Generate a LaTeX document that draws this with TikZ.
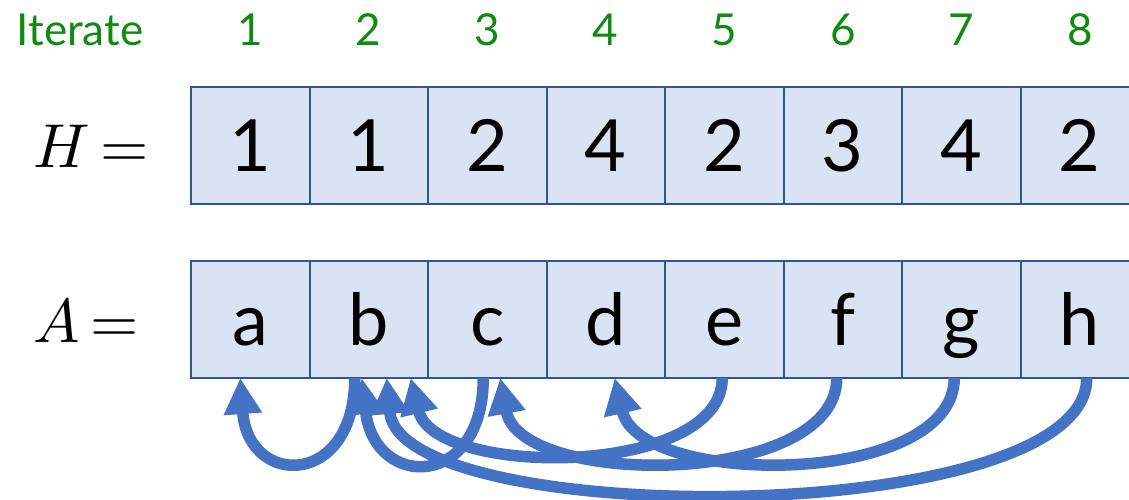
\documentclass[tikz,border=0pt]{standalone}
\usepackage{fontspec}
\usepackage{unicode-math}
\setmainfont{Lato}
\setmathfont{Latin Modern Math}
\usetikzlibrary{arrows.meta,positioning}

\definecolor{cellfill}{HTML}{DAE3F3}
\definecolor{cellline}{HTML}{2F5597}
\definecolor{linkblue}{HTML}{4472C4}
\definecolor{itergreen}{HTML}{118A11}

\begin{document}
\begin{tikzpicture}[x=0.5pt, y=-0.5pt,
	cell/.style={draw=cellline, line width=1pt, fill=cellfill, outer sep=0pt, inner sep=0pt, minimum width=59.25pt, minimum height=58.5pt, text height=26pt, text depth=0pt, font=\fontsize{36}{40}\selectfont},
	iter/.style={text=itergreen, anchor=base, inner sep=0pt, font=\fontsize{22}{26}\selectfont},
	rowname/.style={font=\fontsize{31}{37}\selectfont},
	link/.style={draw=linkblue, line width=5.75pt, -{Triangle[length=18pt, width=18pt]}}]
	\useasboundingbox (0,0) rectangle (1129,499);
	% the two arrays
	\node[cell] (H1) at (250.25,145.5) {1};
	\node[cell, right=0pt of H1] (H2) {1};
	\node[cell, right=0pt of H2] (H3) {2};
	\node[cell, right=0pt of H3] (H4) {4};
	\node[cell, right=0pt of H4] (H5) {2};
	\node[cell, right=0pt of H5] (H6) {3};
	\node[cell, right=0pt of H6] (H7) {4};
	\node[cell, right=0pt of H7] (H8) {2};
	\node[cell] (A1) at (250.25,319.5) {a};
	\node[cell, right=0pt of A1] (A2) {b};
	\node[cell, right=0pt of A2] (A3) {c};
	\node[cell, right=0pt of A3] (A4) {d};
	\node[cell, right=0pt of A4] (A5) {e};
	\node[cell, right=0pt of A5] (A6) {f};
	\node[cell, right=0pt of A6] (A7) {g};
	\node[cell, right=0pt of A7] (A8) {h};
	\node[rowname] (Hname) at (91,146) {$H\,{=}$};
	\node[rowname] (Aname) at (86,320) {$A\,{=}$};
	% iteration numbers
	\node[iter] (itlabel) at (80,45) {Iterate};
	\node[iter] (n1) at (H1.center |- itlabel.base) {1};
	\node[iter] (n2) at (H2.center |- itlabel.base) {2};
	\node[iter] (n3) at (H3.center |- itlabel.base) {3};
	\node[iter] (n4) at (H4.center |- itlabel.base) {4};
	\node[iter] (n5) at (H5.center |- itlabel.base) {5};
	\node[iter] (n6) at (H6.center |- itlabel.base) {6};
	\node[iter] (n7) at (H7.center |- itlabel.base) {7};
	\node[iter] (n8) at (H8.center |- itlabel.base) {8};
	% links A[i] -> A[H[i]]
	\draw[link] ([xshift=-7pt]A2.south) .. controls +(0,110) and +(8,110) .. ([xshift=-5pt]A1.south);
	\draw[link] ([xshift=-2pt]A3.south) .. controls +(0,112) and +(13,112) .. ([xshift=-3.5pt]A2.south);
	\draw[link] ([xshift=-1pt]A5.south) .. controls +(0,100) and +(24,100) .. ([xshift=21pt]A2.south);
	\draw[link] ([xshift=-3pt]A6.south) .. controls +(0,110) and +(20,110) .. ([xshift=6.5pt]A3.south);
	\draw[link] ([xshift=-3.5pt]A7.south) .. controls +(0,110) and +(25,110) .. ([xshift=4.5pt]A4.south);
	\draw[link] ([xshift=3.5pt]A8.south) .. controls +(0,152) and +(13,152) .. ([xshift=9pt]A2.south);
\end{tikzpicture}
\end{document}
